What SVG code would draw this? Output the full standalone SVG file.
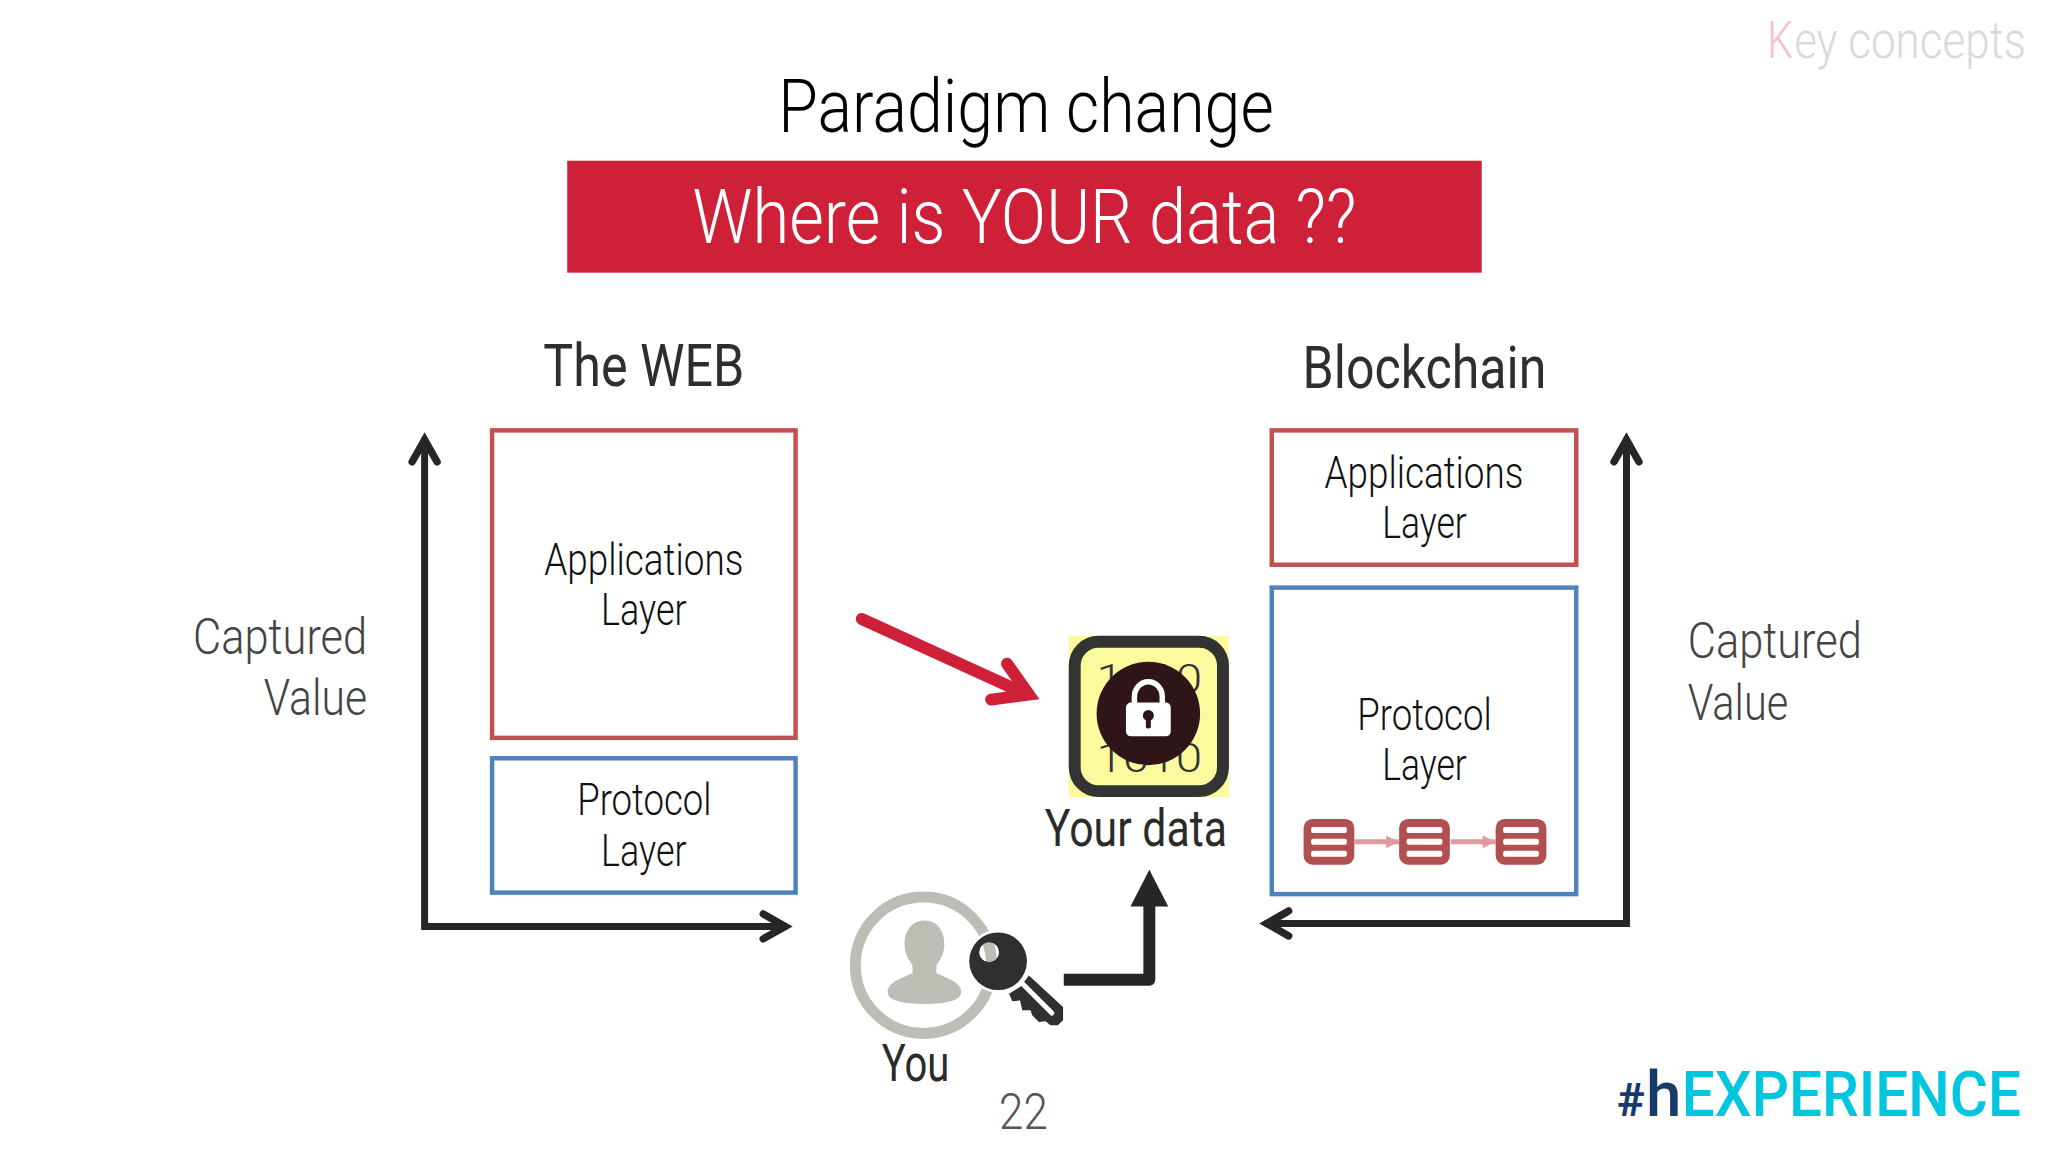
<svg xmlns="http://www.w3.org/2000/svg" width="2048" height="1152" viewBox="0 0 2048 1152">
<style>
text{font-family:"Roboto","Liberation Sans",sans-serif;font-weight:300;fill:#111}
.lb{font-size:44px}
.cap{font-size:51px;fill:#444}
.hd{font-size:60px;font-weight:400;fill:#2e2e2e}
.nm{font-size:52px;font-weight:400;fill:#2b2b2b}
.red{fill:none;stroke:#c15151;stroke-width:4.5}
.blue{fill:none;stroke:#4f81bd;stroke-width:4.5}
.axisv{fill:none;stroke:#262626;stroke-width:7;marker-start:url(#open);marker-end:url(#open)}
.bits{font-size:41px;font-weight:300;fill:#333}
.blk{fill:#b05050}
.bar{fill:#fff}
.lnk{stroke:#e09a9e;stroke-width:5;fill:none;marker-end:url(#pink)}
</style>
<defs>
<marker id="open" markerUnits="userSpaceOnUse" orient="auto-start-reverse" markerWidth="40" markerHeight="40" viewBox="-34 -20 40 40" refX="0" refY="0" overflow="visible">
<path d="M-24 -12.500 L-2 0 L-24 12.500" fill="none" stroke="#262626" stroke-width="7.500" stroke-linecap="round" stroke-linejoin="miter"/>
</marker>
<marker id="pink" markerUnits="userSpaceOnUse" orient="auto" markerWidth="16" markerHeight="16" viewBox="-14 -8 16 16" refX="0" refY="0">
<path d="M-13 -6.500 L0 0 L-13 6.500Z" fill="#e09a9e"/>
</marker>
<g id="block"><rect class="blk" width="51" height="46" rx="9"/><rect class="bar" x="7.500" y="8" width="36" height="6" rx="2"/><rect class="bar" x="7.500" y="20" width="36" height="6" rx="2"/><rect class="bar" x="7.500" y="32" width="36" height="6" rx="2"/></g>
</defs>
<rect width="2048" height="1152" fill="#fff"/>
<g transform="scale(0.9951)">

<g id="corner-label"><text x="1776" y="58" textLength="26" lengthAdjust="spacingAndGlyphs" style="fill:#f7bfcb;font-size:52px">K</text><text x="1803" y="58" textLength="233" lengthAdjust="spacingAndGlyphs" style="fill:#d9d9d9;font-size:52px">ey concepts</text></g>
<g id="title"><text x="782" y="133" style="font-size:75px;fill:#000" textLength="498" lengthAdjust="spacingAndGlyphs">Paradigm change</text></g>
<g id="banner"><rect x="570" y="161.500" width="919" height="112.500" fill="#cf203a"/><text x="696" y="244" style="font-size:77px;fill:#fff" textLength="667" lengthAdjust="spacingAndGlyphs">Where is YOUR data ??</text></g>

<g id="web-heading"><text class="hd" x="546" y="388" textLength="202" lengthAdjust="spacingAndGlyphs">The WEB</text></g>
<g id="blockchain-heading"><text class="hd" x="1309" y="390" textLength="245" lengthAdjust="spacingAndGlyphs">Blockchain</text></g>

<g id="captured-left"><text class="cap" x="194" y="657" textLength="175" lengthAdjust="spacingAndGlyphs">Captured</text><text class="cap" x="265" y="719" textLength="104" lengthAdjust="spacingAndGlyphs">Value</text></g>
<g id="captured-right"><text class="cap" x="1696" y="661" textLength="175" lengthAdjust="spacingAndGlyphs">Captured</text><text class="cap" x="1696" y="724" textLength="101" lengthAdjust="spacingAndGlyphs">Value</text></g>

<g id="web-applications"><rect class="red" x="494.500" y="432.500" width="305" height="309"/><text class="lb" x="547" y="578" textLength="200" lengthAdjust="spacingAndGlyphs">Applications</text><text class="lb" x="604" y="628" textLength="86" lengthAdjust="spacingAndGlyphs">Layer</text></g>
<g id="web-protocol"><rect class="blue" x="494.500" y="762" width="305" height="135"/><text class="lb" x="580" y="819" textLength="135" lengthAdjust="spacingAndGlyphs">Protocol</text><text class="lb" x="604" y="870" textLength="86" lengthAdjust="spacingAndGlyphs">Layer</text></g>

<g id="chain-applications"><rect class="red" x="1278" y="432.500" width="306" height="135"/><text class="lb" x="1331" y="490" textLength="200" lengthAdjust="spacingAndGlyphs">Applications</text><text class="lb" x="1389" y="541" textLength="85" lengthAdjust="spacingAndGlyphs">Layer</text></g>
<g id="chain-protocol"><rect class="blue" x="1278" y="590.500" width="306" height="308"/><text class="lb" x="1364" y="734" textLength="135" lengthAdjust="spacingAndGlyphs">Protocol</text><text class="lb" x="1389" y="784" textLength="85" lengthAdjust="spacingAndGlyphs">Layer</text>
<use href="#block" x="1310" y="823"/><use href="#block" x="1406" y="823"/><use href="#block" x="1503" y="823"/></g>

<g id="your-data">
<rect x="1074" y="639" width="161" height="162" fill="#fbfb9e"/>
<rect x="1080" y="645" width="149" height="150" rx="24" fill="#fbfb9e" stroke="#333" stroke-width="12"/>
<text class="bits" x="1102" y="696" textLength="106" lengthAdjust="spacingAndGlyphs">1010</text>
<text class="bits" x="1102" y="736" textLength="106" lengthAdjust="spacingAndGlyphs">0101</text>
<text class="bits" x="1102" y="776" textLength="106" lengthAdjust="spacingAndGlyphs">1010</text>
<circle cx="1154" cy="717" r="52" fill="#2f1517"/>
<path d="M1140 708 V700 A14 15 0 0 1 1168 700 V708" fill="none" stroke="#fff" stroke-width="5.500"/>
<rect x="1131.500" y="706" width="45" height="34" rx="5" fill="#fff"/>
<circle cx="1154" cy="719" r="5.500" fill="#2f1517"/><rect x="1151.500" y="720" width="5" height="12" rx="2" fill="#2f1517"/>
<text class="nm" x="1050" y="850" textLength="183" lengthAdjust="spacingAndGlyphs">Your data</text>
</g>

<g id="you">
<circle cx="928" cy="970" r="68.500" fill="none" stroke="#bdbdb6" stroke-width="11"/>
<path d="M929 925 C943 925 949 937 949 949 C949 959 944 966 941 970 L941 978 C955 984 966 988 966 997 C966 1006 950 1009 929 1009 C908 1009 892 1006 892 997 C892 988 903 984 917 978 L917 970 C914 966 909 959 909 949 C909 937 915 925 929 925Z" fill="#bdbdb6"/>
<text class="nm" x="886" y="1086" textLength="68" lengthAdjust="spacingAndGlyphs">You</text>
</g>

<g id="key" transform="translate(1003 966)">
<path d="M31 14.300 L65.300 46 L65.300 59.300 L60 64.300 L52.700 64.300 L47.700 60.300 L41 61 L34.300 54.300 L32.700 49.300 L24.300 49.300 L22 39.300 L14.300 40.300 L11 32.700 L22.700 25.300Z" fill="#2f2f2f"/>
<path d="M22 20 L54 52" stroke="#fff" stroke-width="5" stroke-linecap="round"/>
<circle r="30" fill="none" stroke="#fff" stroke-width="3.500"/>
<path fill-rule="evenodd" d="M-29 0 A29 29 0 1 1 29 0 A29 29 0 1 1 -29 0Z M-19 -9 A10 10 0 1 0 1 -9 A10 10 0 1 0 -19 -9Z" fill="#2f2f2f"/>
</g>

<g id="page-number"><text x="1004" y="1135" style="font-size:50px;fill:#555" textLength="49" lengthAdjust="spacingAndGlyphs">22</text></g>
<g id="logo"><text y="1122" style="font-size:64px;font-weight:500;fill:#00c6e0"><tspan style="fill:#183a68;font-size:47px;font-weight:700" x="1625">#</tspan><tspan style="fill:#183a68" x="1654">h</tspan><tspan x="1690" textLength="341" lengthAdjust="spacingAndGlyphs">EXPERIENCE</tspan></text></g>

<g id="connectors">
<path class="axisv" d="M426.700 440 V931 H791"/>
<path class="axisv" d="M1634.500 440 V928 H1271"/>
<path d="M866 622 L1030 697" fill="none" stroke="#cf203a" stroke-width="12" stroke-linecap="round"/>
<path d="M1012 667 L1034 698 L996 703" fill="none" stroke="#cf203a" stroke-width="12" stroke-linecap="round" stroke-linejoin="miter"/>
<path d="M1069 984.500 H1155 V905" fill="none" stroke="#262626" stroke-width="12" stroke-linejoin="round"/>
<path d="M1155 874 L1174 911 L1136 911Z" fill="#262626"/>
<path class="lnk" d="M1361 846 H1406"/>
<path class="lnk" d="M1458 846 H1503"/>
</g>
</g>
</svg>
